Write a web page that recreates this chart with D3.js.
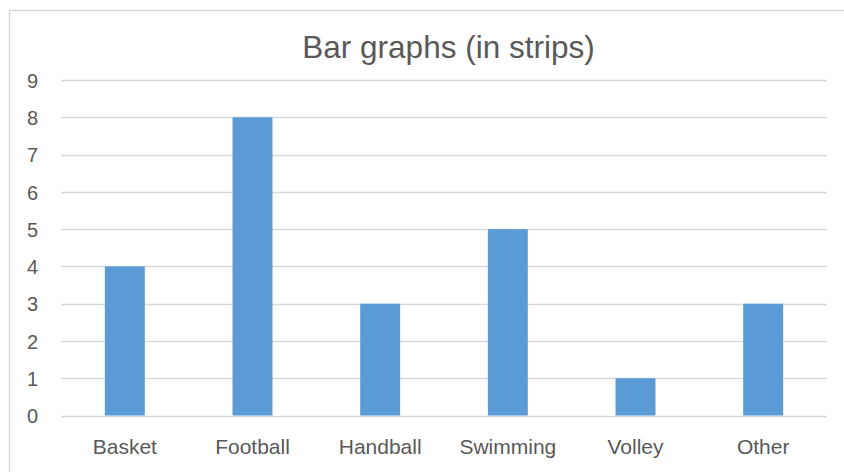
<!DOCTYPE html>
<html><head><meta charset="utf-8">
<script src="https://cdn.jsdelivr.net/npm/d3@7"></script>
<style>body{margin:0;background:#fff}svg{display:block}</style>
</head><body>
<script>
const categories = ["Basket","Football","Handball","Swimming","Volley","Other"];
const values = [4, 8, 3, 5, 1, 3];
const yTicks = [0,1,2,3,4,5,6,7,8,9];
const title = "Bar graphs (in strips)";

const W = 844, H = 472;
const svg = d3.select("body").append("svg").attr("width", W).attr("height", H);
const font = "'Liberation Sans', Arial, sans-serif";
const textColor = "#595959";

// outer chart border (extends beyond the window on right/bottom)
svg.append("rect").attr("x", 9.5).attr("y", 10.5).attr("width", 900).attr("height", 500)
  .attr("fill", "#fff").attr("stroke", "#D9D9D9").attr("stroke-width", 1.5);

const x = d3.scaleBand().domain(categories).range([61, 827]).paddingInner(0.687).paddingOuter(0.3435);
const y = d3.scaleLinear().domain([0, 9]).range([415.5, 80]);

// gridlines
svg.append("g").selectAll("line").data(yTicks).join("line")
  .attr("x1", 61).attr("x2", 827)
  .attr("y1", d => Math.round(y(d)) + 0.5).attr("y2", d => Math.round(y(d)) + 0.5)
  .attr("stroke", "#D9D9D9").attr("stroke-width", 1.5);

// y axis labels
const yAxis = d3.axisLeft(y).tickValues(yTicks).tickSize(0).tickPadding(0);
const ya = svg.append("g").attr("transform", "translate(38,0)").call(yAxis);
ya.select(".domain").remove();
ya.selectAll("text").attr("font-family", font).attr("font-size", 20).attr("fill", textColor)
  .attr("dy", "0.36em");

// bars
svg.append("g").selectAll("rect").data(values).join("rect")
  .attr("x", (d, i) => x(categories[i]))
  .attr("width", x.bandwidth())
  .attr("y", d => y(d))
  .attr("height", d => y(0) - y(d))
  .attr("fill", "#5B9BD5");

// x axis labels
const xAxis = d3.axisBottom(x).tickSize(0).tickPadding(0);
const xa = svg.append("g").attr("transform", "translate(0,438)").call(xAxis);
xa.select(".domain").remove();
xa.selectAll("text").attr("font-family", font).attr("font-size", 21).attr("fill", textColor)
  .attr("dy", "0.75em");

// title
svg.append("text").attr("x", 448.5).attr("y", 58).attr("text-anchor", "middle")
  .attr("font-family", font).attr("font-size", 31.5).attr("fill", textColor).text(title);
</script>
</body></html>
